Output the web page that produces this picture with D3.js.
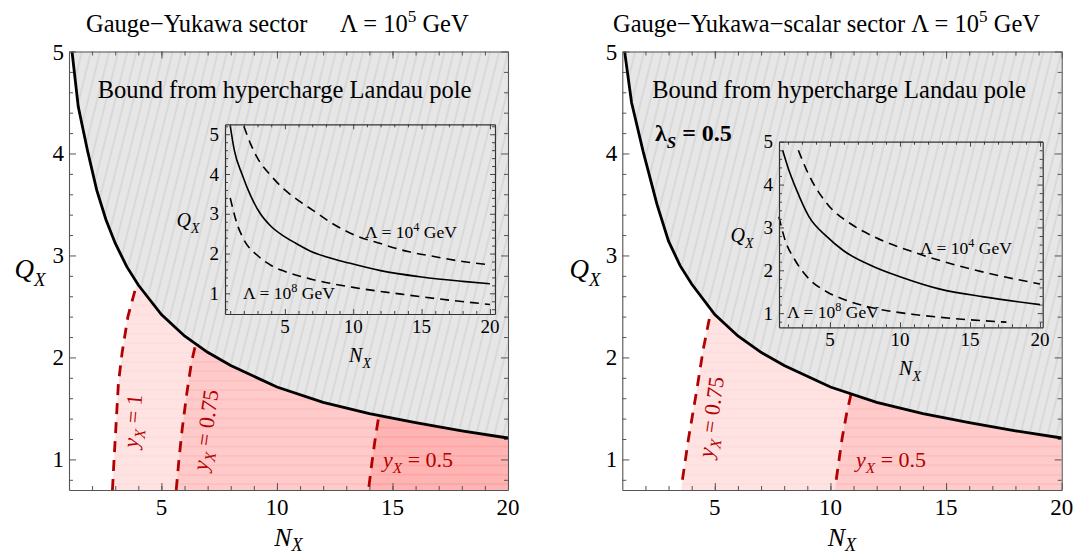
<!DOCTYPE html>
<html>
<head>
<meta charset="utf-8">
<script src="https://cdn.jsdelivr.net/npm/d3@7"></script>
<style>
  html, body { margin: 0; padding: 0; background: #fff; }
  svg { display: block; font-family: "Liberation Serif", "Times New Roman", serif; }
</style>
</head>
<body>
<svg id="chart" width="1076" height="556"></svg>
<script>
// ---- data ----
// hypercharge Landau pole bound, Lambda = 1e5 GeV
const boundN_L = [1.13, 1.4, 1.8, 2.2, 2.6, 3, 3.5, 4, 5, 6, 7, 8, 10, 12, 14, 16, 18, 20];
const boundQ_L = [5.0, 4.46, 4.03, 3.64, 3.35, 3.12, 2.89, 2.71, 2.42, 2.21, 2.05, 1.92, 1.71, 1.56, 1.45, 1.36, 1.28, 1.21];
const boundN_R = [1.1, 1.4, 1.9, 2.5, 3, 3.5, 4, 5, 6, 7, 8, 10, 12, 14, 16, 18, 20];
const boundQ_R = [5.0, 4.5, 4.02, 3.5, 3.14, 2.9, 2.72, 2.42, 2.21, 2.05, 1.92, 1.71, 1.56, 1.45, 1.36, 1.28, 1.21];

// y_X contours (red dashed)
const yx1N_L = [2.88, 2.95, 3.05, 3.14, 3.3, 3.55, 3.93];
const yx1Q_L = [0.7, 1.0, 1.4, 1.75, 2.05, 2.4, 2.72];
const yx075N_L = [5.64, 5.76, 5.9, 6.1, 6.3, 6.5];
const yx075Q_L = [0.7, 1.0, 1.3, 1.65, 1.95, 2.15];
const yx05N_L = [13.98, 14.1, 14.22, 14.32, 14.42];
const yx05Q_L = [0.73, 0.95, 1.15, 1.3, 1.44];
const yx075N_R = [3.6, 3.86, 4.22, 4.5, 4.8];
const yx075Q_R = [0.8, 1.2, 1.68, 2.08, 2.42];
const yx05N_R = [10.25, 10.5, 10.7, 10.9];
const yx05Q_R = [0.8, 1.2, 1.45, 1.65];
// where each allowed region meets the N_X axis
const regionFootN_L = [2.88, 5.64, 13.96];
const regionFootN_R = [3.55, 10.2];

// insets: bound for Lambda = 1e5 (solid), 1e4 and 1e8 (dashed)
const inL_midN = [1.0, 1.3, 1.86, 2.5, 3.21, 4, 5, 5.79, 7, 8, 9.7, 12, 15, 18, 20];
const inL_midQ = [5.22, 4.6, 4.0, 3.45, 3.0, 2.68, 2.42, 2.26, 2.04, 1.92, 1.76, 1.57, 1.41, 1.3, 1.24];
const inL_e4N = [2.0, 2.5, 3, 4, 5, 6, 7, 8.5, 10, 12, 14, 16, 18, 20];
const inL_e4Q = [5.2, 4.75, 4.4, 3.95, 3.6, 3.33, 3.1, 2.75, 2.48, 2.25, 2.05, 1.92, 1.8, 1.72];
const inL_e8N = [1.0, 1.5, 2, 3, 4, 5, 7, 10, 13.5, 17, 20];
const inL_e8Q = [3.4, 2.75, 2.35, 1.95, 1.7, 1.55, 1.35, 1.15, 0.98, 0.83, 0.72];
const inR_midN = [1.62, 2, 2.62, 3.5, 4.76, 6, 8.09, 10, 12.86, 16, 20];
const inR_midQ = [4.8, 4.4, 3.87, 3.25, 2.79, 2.45, 2.09, 1.85, 1.56, 1.38, 1.2];
const inR_e4N = [2.74, 3.5, 4.88, 6.5, 8.09, 11.19, 14, 17, 20];
const inR_e4Q = [4.8, 4.22, 3.52, 3.08, 2.79, 2.4, 2.12, 1.88, 1.68];
const inR_e8N = [1.35, 1.8, 2.5, 3.5, 4.76, 6, 8.09, 11, 14, 17.6];
const inR_e8Q = [3.25, 2.7, 2.24, 1.8, 1.5, 1.32, 1.12, 0.97, 0.87, 0.79];

const xTicks = [5, 10, 15, 20];
const yTicks = [1, 2, 3, 4, 5];

const RED = '#b30000';
const FONT = '"Liberation Serif", "Times New Roman", serif';
const zip = (a, b) => a.map((v, i) => [v, b[i]]);

const svg = d3.select('#chart');
const defs = svg.append('defs');

// grey hatch for the excluded region
const hatch = defs.append('pattern').attr('id', 'hatch')
  .attr('patternUnits', 'userSpaceOnUse').attr('width', 8.8).attr('height', 10)
  .attr('patternTransform', 'rotate(14)');
hatch.append('rect').attr('width', 8.8).attr('height', 10).attr('fill', '#e6e6e6');
hatch.append('line').attr('x1', 4).attr('x2', 4).attr('y1', -1).attr('y2', 11)
  .attr('stroke', '#c4c4c4').attr('stroke-width', 0.8);

// translucent striped pink for allowed regions (they stack)
const stripe = defs.append('pattern').attr('id', 'stripe')
  .attr('patternUnits', 'userSpaceOnUse').attr('width', 10).attr('height', 9.4);
stripe.append('rect').attr('width', 10).attr('height', 9.4).attr('fill', 'rgba(255,0,0,0.11)');
stripe.append('line').attr('x1', 0).attr('x2', 10).attr('y1', 4.7).attr('y2', 4.7)
  .attr('stroke', 'rgba(220,0,0,0.05)').attr('stroke-width', 1);

function richText(parent, x, y, parts, size, anchor, subShift) {
  const t = parent.append('text').attr('x', x).attr('y', y)
    .attr('font-family', FONT)
    .attr('font-size', size).attr('text-anchor', anchor || 'start');
  let shift = 0;
  parts.forEach(p => {
    const s = t.append('tspan').text(p.t);
    let target = 0;
    if (p.sub) target = size * (subShift || 0.28);
    if (p.sup) target = -size * 0.42;
    if (target !== shift) { s.attr('dy', target - shift); shift = target; }
    if (p.sub || p.sup) s.attr('font-size', size * 0.7);
    if (p.i) s.attr('font-style', 'italic');
    if (p.b) s.attr('font-weight', 'bold');
  });
  return t;
}

function range(a, b, step) {
  const out = [];
  for (let v = a; v <= b + 1e-9; v += step) out.push(+v.toFixed(3));
  return out;
}

// frame with inward ticks on all four sides
function frame(g, x, y, o) {
  const [x0, x1] = x.range();
  const [yb, yt] = y.range();
  const sides = [
    [d3.axisBottom(x), `translate(0,${yb})`, o.xMaj, o.xMin],
    [d3.axisTop(x), `translate(0,${yt})`, o.xMaj, o.xMin],
    [d3.axisLeft(y), `translate(${x0},0)`, o.yMaj, o.yMin],
    [d3.axisRight(y), `translate(${x1},0)`, o.yMaj, o.yMin],
  ];
  sides.forEach(([ax, tr, maj, min]) => {
    const gMin = g.append('g').attr('transform', tr)
      .call(ax.tickValues(min).tickSize(-o.minLen).tickSizeOuter(0).tickFormat(''));
    gMin.select('.domain').attr('stroke', o.color).attr('stroke-width', o.width);
    gMin.selectAll('.tick line').attr('stroke', o.color).attr('stroke-width', o.tickWidth);
    const gMaj = g.append('g').attr('transform', tr)
      .call(ax.tickValues(maj).tickSize(-o.majLen).tickSizeOuter(0).tickFormat(''));
    gMaj.select('.domain').remove();
    gMaj.selectAll('.tick line').attr('stroke', o.color).attr('stroke-width', o.tickWidth);
  });
}

function drawPanel(p) {
  const x = d3.scaleLinear().domain([1, 20]).range([p.left, p.right]);
  const y = d3.scaleLinear().domain([0.7, 5]).range([490, 51.5]);
  const g = svg.append('g');
  const line = d3.line().x(d => x(d[0])).y(d => y(d[1]));
  const bound = zip(p.boundN, p.boundQ);

  // excluded (grey hatched) region above the bound
  g.append('path')
    .attr('d', line([...bound, [20, 5], [bound[0][0], 5]]) + 'Z')
    .attr('fill', 'url(#hatch)');

  // allowed region clip: below the bound
  const clipId = p.id + '-below';
  defs.append('clipPath').attr('id', clipId).append('path')
    .attr('d', line([[1, 5], ...bound, [20, 0.7], [1, 0.7]]) + 'Z');

  const regions = g.append('g').attr('clip-path', `url(#${clipId})`);
  p.contours.forEach((c, i) => {
    const pts = zip(c.n, c.q);
    const last = pts[pts.length - 1];
    const poly = [[p.feet[i], 0.7], ...pts, [last[0], 5.2], [20, 5.2], [20, 0.7]];
    regions.append('path').attr('d', line(poly) + 'Z').attr('fill', 'url(#stripe)');
  });

  // contours
  p.contours.forEach(c => {
    g.append('path').attr('d', line(zip(c.n, c.q)))
      .attr('fill', 'none').attr('stroke', RED).attr('stroke-width', 2.8)
      .attr('stroke-dasharray', '11,8');
  });

  // bound
  g.append('path').attr('d', line(bound))
    .attr('fill', 'none').attr('stroke', '#000').attr('stroke-width', 2.8);

  frame(g, x, y, {
    xMaj: xTicks, xMin: range(2, 19, 1),
    yMaj: yTicks, yMin: range(0.8, 4.8, 0.2).filter(v => Math.abs(v - Math.round(v)) > 1e-6),
    majLen: 7, minLen: 4, color: '#555', width: 1.1, tickWidth: 1,
  });

  // tick labels
  g.selectAll('.xl').data(xTicks).join('text')
    .attr('font-family', FONT)
    .attr('x', d => x(d)).attr('y', 515).attr('text-anchor', 'middle')
    .attr('font-size', 23).text(d => d);
  g.selectAll('.yl').data(yTicks).join('text')
    .attr('font-family', FONT)
    .attr('x', p.left - 5).attr('y', d => y(d) + 8).attr('text-anchor', 'end')
    .attr('font-size', 23).text(d => d);

  // axis titles
  richText(g, p.qxX, 278, [{ t: 'Q', i: true }, { t: 'X', i: true, sub: true }], 27, 'middle');
  richText(g, (p.left + p.right) / 2, 546, [{ t: 'N', i: true }, { t: 'X', i: true, sub: true }], 26, 'middle', 0.2);

  richText(g, (p.left + p.right) / 2 + p.boundDx, 98,
    [{ t: 'Bound from hypercharge Landau pole' }], 24.5, 'middle');

  p.labels.forEach(l => {
    const lg = g.append('g').attr('transform', `translate(${l.x},${l.y}) rotate(${l.rot})`);
    richText(lg, 0, 7, [{ t: 'y', i: true }, { t: 'X', i: true, sub: true }, { t: ' = ' + l.v }], 22, 'middle')
      .attr('fill', RED);
  });
  return g;
}

function drawInset(p) {
  const x = d3.scaleLinear().domain(p.xDom).range(p.xRange);
  const y = d3.scaleLinear().domain(p.yDom).range(p.yRange);
  const g = svg.append('g');
  const line = d3.line().x(d => x(d[0])).y(d => y(d[1])).curve(d3.curveMonotoneX);

  g.append('path').attr('d', line(zip(p.midN, p.midQ)))
    .attr('fill', 'none').attr('stroke', '#000').attr('stroke-width', 1.6);
  [[p.e4N, p.e4Q], [p.e8N, p.e8Q]].forEach(([n, q]) => {
    g.append('path').attr('d', line(zip(n, q)))
      .attr('fill', 'none').attr('stroke', '#000').attr('stroke-width', 1.6)
      .attr('stroke-dasharray', '9,6');
  });

  const yMin = range(0.2, 5.2, 0.2)
    .filter(v => v > p.yDom[0] && v < p.yDom[1] && Math.abs(v - Math.round(v)) > 1e-6);
  frame(g, x, y, {
    xMaj: xTicks, xMin: range(1, 20, 1).filter(v => v > p.xDom[0] && v % 5 !== 0),
    yMaj: yTicks.filter(v => v <= p.yDom[1] + 1e-6), yMin,
    majLen: 5, minLen: 3, color: '#333', width: 1.2, tickWidth: 0.9,
  });

  const [xl] = p.xRange;
  const [yb] = p.yRange;
  g.selectAll('.xl').data(xTicks).join('text')
    .attr('font-family', FONT)
    .attr('x', d => x(d)).attr('y', yb + 19).attr('text-anchor', 'middle')
    .attr('font-size', 19).text(d => d);
  g.selectAll('.yl').data(yTicks).join('text')
    .attr('font-family', FONT)
    .attr('x', xl - 6).attr('y', d => y(d) + 6.5).attr('text-anchor', 'end')
    .attr('font-size', 19).text(d => d);

  richText(g, p.qx[0], p.qx[1], [{ t: 'Q', i: true }, { t: 'X', i: true, sub: true }], 20, 'middle');
  richText(g, p.nx[0], p.nx[1], [{ t: 'N', i: true }, { t: 'X', i: true, sub: true }], 20, 'middle');

  richText(g, p.l4[0], p.l4[1], [{ t: 'Λ = 10' }, { t: '4', sup: true }, { t: ' GeV' }], 17.5, 'start');
  richText(g, p.l8[0], p.l8[1], [{ t: 'Λ = 10' }, { t: '8', sup: true }, { t: ' GeV' }], 17.5, 'start');
}

// ---- left panel ----
drawPanel({
  id: 'left', left: 69, right: 508, qxX: 30, boundDx: -4,
  boundN: boundN_L, boundQ: boundQ_L,
  contours: [
    { n: yx1N_L, q: yx1Q_L },
    { n: yx075N_L, q: yx075Q_L },
    { n: yx05N_L, q: yx05Q_L },
  ],
  feet: regionFootN_L,
  labels: [
    { x: 133, y: 421, rot: -85, v: '1' },
    { x: 206, y: 430, rot: -82, v: '0.75' },
    { x: 418, y: 460, rot: 0, v: '0.5' },
  ],
});
drawInset({
  xDom: [0.62, 20.37], xRange: [225, 495], yDom: [0.48, 5.25], yRange: [314, 124.3],
  midN: inL_midN, midQ: inL_midQ, e4N: inL_e4N, e4Q: inL_e4Q, e8N: inL_e8N, e8Q: inL_e8Q,
  qx: [188, 227], nx: [360, 362], l4: [365, 238], l8: [243, 299],
});

// ---- right panel ----
drawPanel({
  id: 'right', left: 622.3, right: 1061.7, qxX: 585, boundDx: -3,
  boundN: boundN_R, boundQ: boundQ_R,
  contours: [
    { n: yx075N_R, q: yx075Q_R },
    { n: yx05N_R, q: yx05Q_R },
  ],
  feet: regionFootN_R,
  labels: [
    { x: 711.5, y: 417, rot: -82, v: '0.75' },
    { x: 891, y: 460, rot: 0, v: '0.5' },
  ],
});
drawInset({
  xDom: [1.36, 20.19], xRange: [779, 1042.7], yDom: [0.67, 5.0], yRange: [327.3, 141.7],
  midN: inR_midN, midQ: inR_midQ, e4N: inR_e4N, e4Q: inR_e4Q, e8N: inR_e8N, e8Q: inR_e8Q,
  qx: [742, 242], nx: [910, 375], l4: [920, 254], l8: [787, 318],
});

richText(svg, 655, 141, [{ t: 'λ', b: true }, { t: 'S', b: true, i: true, sub: true }, { t: ' = 0.5', b: true }], 24, 'start');

// titles
richText(svg, 86, 32, [{ t: 'Gauge−Yukawa sector' }], 24.5, 'start');
richText(svg, 340, 32, [{ t: 'Λ = 10' }, { t: '5', sup: true }, { t: ' GeV' }], 24.5, 'start');
richText(svg, 613, 32, [{ t: 'Gauge−Yukawa−scalar sector Λ = 10' }, { t: '5', sup: true }, { t: ' GeV' }], 24.5, 'start');
</script>
</body>
</html>
